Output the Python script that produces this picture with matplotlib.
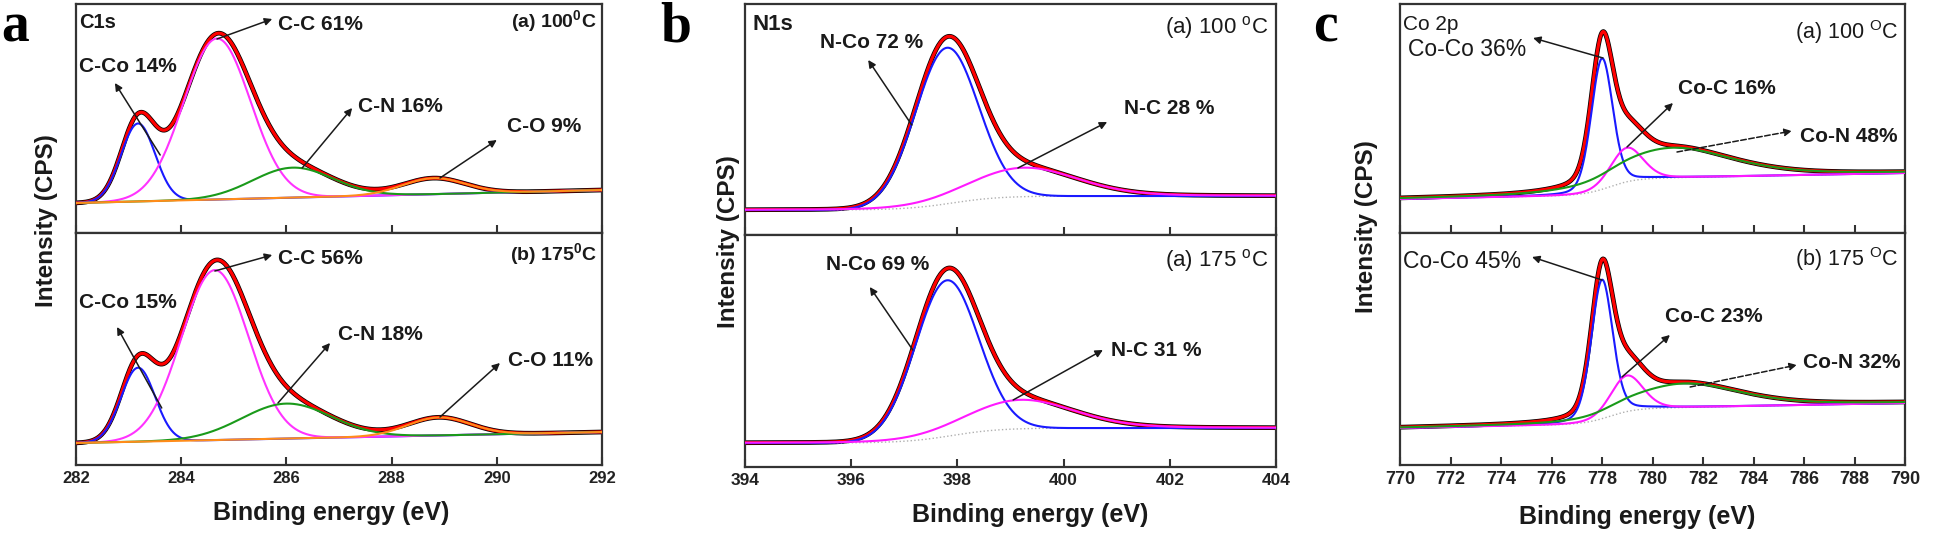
import numpy as np
import matplotlib
matplotlib.use('Agg')
import matplotlib.pyplot as plt

plt.rcParams['font.family'] = ['Liberation Sans', 'DejaVu Sans']
plt.rcParams['mathtext.fontset'] = 'custom'
plt.rcParams['mathtext.default'] = 'regular'

# ---- data (peak centre eV, height, HWHM eV, lorentz share)
# C1s
c1s_range = (282, 292)
c1s_ticks = [282, 284, 286, 288, 290, 292]
c1s_names = ['C-Co', 'C-C', 'C-N', 'C-O']
c1s_100_center = [283.18, 284.68, 286.12, 288.8]
c1s_100_height = [78, 161, 30, 16]
c1s_100_hwhm = [0.38, 0.75, 0.9, 0.7]
c1s_100_eta = [0, 0, 0, 0]
c1s_100_pct = [14, 61, 16, 9]
c1s_100_bg = [30, 1.3, 0, 287, 1]   # level, slope, step, step centre, step width
c1s_175_center = [283.18, 284.64, 286.0, 288.9]
c1s_175_height = [74, 170, 35, 18]
c1s_175_hwhm = [0.38, 0.75, 1.0, 0.7]
c1s_175_eta = [0, 0, 0, 0]
c1s_175_pct = [15, 56, 18, 11]
c1s_175_bg = [22, 1.1, 0, 287, 1]

# N1s
n1s_range = (394, 404)
n1s_ticks = [394, 396, 398, 400, 402, 404]
n1s_names = ['N-Co', 'N-C']
n1s_100_center = [397.8, 399.24]
n1s_100_height = [156, 29]
n1s_100_hwhm = [0.7, 1.2]
n1s_100_eta = [0, 0.2]
n1s_100_pct = [72, 28]
n1s_100_bg = [25, 0, 14, 397.9, 0.45]
n1s_175_center = [397.8, 399.18]
n1s_175_height = [156, 29]
n1s_175_hwhm = [0.7, 1.2]
n1s_175_eta = [0, 0.2]
n1s_175_pct = [69, 31]
n1s_175_bg = [24, 0, 15, 397.9, 0.45]

# Co 2p
co_range = (770, 790)
co_ticks = [770, 772, 774, 776, 778, 780, 782, 784, 786, 788, 790]
co_names = ['Co-Co', 'Co-C', 'Co-N']
co_100_center = [778.0, 778.98, 780.8]
co_100_height = [131, 34, 30]
co_100_hwhm = [0.5, 0.75, 2.8]
co_100_eta = [0.2, 0.2, 0.5]
co_100_pct = [36, 16, 48]
co_100_bg = [34, 0.5, 16, 778.3, 0.5]
co_175_center = [778.0, 778.98, 781.3]
co_175_height = [139, 36, 24]
co_175_hwhm = [0.5, 0.75, 2.6]
co_175_eta = [0.25, 0.2, 0.5]
co_175_pct = [45, 23, 32]
co_175_bg = [37, 0.5, 15, 778.3, 0.5]

W, H = 1946, 533
fig = plt.figure(figsize=(W / 100, H / 100), dpi=100)
SPINE = '#333333'


def pv(x, c, h, w, eta):
    d = ((x - c) / w) ** 2
    return h * (eta / (1 + d) + (1 - eta) * np.exp(-np.log(2) * d))


def background(x, p):
    lo, slope, step, sc, sw = p
    return lo + slope * (x - x[0]) + step / (1 + np.exp(-(x - sc) / sw))


def px_axes(l, r, t, b):
    return fig.add_axes([l / W, 1 - b / H, (r - l) / W, (b - t) / H])


def spectrum(ax, xr, centers, heights, hwhms, etas, bgp, colors, graybg):
    x = np.linspace(xr[0], xr[1], 800)
    bg = background(x, bgp)
    comps = [pv(x, c, h, w, e) for c, h, w, e in zip(centers, heights, hwhms, etas)]
    env = bg + np.sum(comps, axis=0)
    ax.plot(x, env, color='black', lw=3.4, zorder=2)
    ax.plot(x, env, color='#ff0000', lw=2.3, zorder=3)
    if graybg:
        ax.plot(x, bg, color='#b0b0b0', lw=1.0, ls=':', zorder=2.5)
    for comp, col in zip(comps, colors):
        ax.plot(x, bg + comp, color=col, lw=1.5, zorder=4)


def style(ax, xr, ticks, ylim, bottom, tsize):
    ax.set_xlim(*xr)
    ax.set_ylim(0, ylim)
    ax.set_yticks([])
    ax.set_xticks(ticks)
    for s in ax.spines.values():
        s.set_color(SPINE)
        s.set_linewidth(1.6)
    ax.tick_params(axis='x', direction='in', length=6, width=1.5, color=SPINE,
                   labelsize=tsize, pad=4, labelbottom=bottom)
    for lab in ax.get_xticklabels():
        lab.set_fontweight('bold')
        lab.set_color('#222222')


def arrow(ax, head, tail, ls='-'):
    ax.annotate('', xy=head, xytext=tail,
                arrowprops=dict(arrowstyle='-|>', color='#1a1a1a', lw=1.1, ls=ls,
                                mutation_scale=11, shrinkA=0, shrinkB=0), zorder=6)


def label(ax, s, x, y, size, weight='bold', ha='center'):
    ax.text(x, y, s, fontsize=size, fontweight=weight, ha=ha, va='center',
            color='#1a1a1a', zorder=7)


# ---------------- panel a : C1s
cols_a = ['#1a1aff', '#ff33ff', '#1a9a1a', '#ff8c1a']
a1 = px_axes(76, 602, 4, 233)
a2 = px_axes(76, 602, 233, 465)
spectrum(a1, c1s_range, c1s_100_center, c1s_100_height, c1s_100_hwhm, c1s_100_eta,
         c1s_100_bg, cols_a, False)
spectrum(a2, c1s_range, c1s_175_center, c1s_175_height, c1s_175_hwhm, c1s_175_eta,
         c1s_175_bg, cols_a, False)
style(a1, c1s_range, c1s_ticks, 229, False, 12)
style(a2, c1s_range, c1s_ticks, 232, True, 12)
lab_a1 = ['%s %d%%' % (n, p) for n, p in zip(c1s_names, c1s_100_pct)]
lab_a2 = ['%s %d%%' % (n, p) for n, p in zip(c1s_names, c1s_175_pct)]
label(a1, 'C1s', 282.06, 210, 14.5, ha='left')
label(a1, '(a) 100$^0$C', 291.9, 212, 14, ha='right')
label(a2, '(b) 175$^0$C', 291.9, 211, 14, ha='right')
for s, tx, ty in zip(lab_a1, [282.99, 286.64, 288.16, 290.9], [167, 208, 127, 107]):
    label(a1, s, tx, ty, 15)
for s, tx, ty in zip(lab_a2, [282.99, 286.64, 287.78, 291.03], [162, 206, 130, 105]):
    label(a2, s, tx, ty, 15)
arrow(a1, (282.74, 150), (283.6, 78))
arrow(a1, (285.73, 214), (284.68, 194))
arrow(a1, (287.25, 125), (286.3, 65))
arrow(a1, (290.0, 93), (288.92, 55))
arrow(a2, (282.78, 138), (283.63, 57))
arrow(a2, (285.73, 210), (284.64, 194))
arrow(a2, (286.83, 122), (285.84, 62))
arrow(a2, (290.06, 102), (288.92, 48))

# ---------------- panel b : N1s
cols_b = ['#1a1aff', '#ff1aff']
b1 = px_axes(745, 1276, 4, 235)
b2 = px_axes(745, 1276, 235, 467)
spectrum(b1, n1s_range, n1s_100_center, n1s_100_height, n1s_100_hwhm, n1s_100_eta,
         n1s_100_bg, cols_b, True)
spectrum(b2, n1s_range, n1s_175_center, n1s_175_height, n1s_175_hwhm, n1s_175_eta,
         n1s_175_bg, cols_b, True)
style(b1, n1s_range, n1s_ticks, 231, False, 12.5)
style(b2, n1s_range, n1s_ticks, 232, True, 12.5)
lab_b1 = ['%s %d %%' % (n, p) for n, p in zip(n1s_names, n1s_100_pct)]
lab_b2 = ['%s %d %%' % (n, p) for n, p in zip(n1s_names, n1s_175_pct)]
label(b1, 'N1s', 394.15, 210, 16, ha='left')
label(b1, '(a) 100 $^o$C', 403.85, 207, 16, weight='normal', ha='right')
label(b2, '(a) 175 $^o$C', 403.85, 207, 16, weight='normal', ha='right')
for s, tx, ty in zip(lab_b1, [396.39, 401.98], [192, 126]):
    label(b1, s, tx, ty, 15)
for s, tx, ty in zip(lab_b2, [396.49, 401.74], [202, 117]):
    label(b2, s, tx, ty, 15)
arrow(b1, (396.32, 175), (397.14, 110))
arrow(b1, (400.82, 113), (399.14, 67))
arrow(b2, (396.35, 180), (397.16, 117))
arrow(b2, (400.74, 117), (399.05, 67))

# ---------------- panel c : Co 2p
cols_c = ['#1a1aff', '#ff1aff', '#1a9a1a']
c1 = px_axes(1400, 1905, 4, 233)
c2 = px_axes(1400, 1905, 233, 465)
spectrum(c1, co_range, co_100_center, co_100_height, co_100_hwhm, co_100_eta,
         co_100_bg, cols_c, True)
spectrum(c2, co_range, co_175_center, co_175_height, co_175_hwhm, co_175_eta,
         co_175_bg, cols_c, True)
style(c1, co_range, co_ticks, 229, False, 13)
style(c2, co_range, co_ticks, 232, True, 13)
lab_c1 = ['%s %d%%' % (n, p) for n, p in zip(co_names, co_100_pct)]
lab_c2 = ['%s %d%%' % (n, p) for n, p in zip(co_names, co_175_pct)]
label(c1, 'Co 2p', 770.12, 208, 15, weight='normal', ha='left')
label(c1, '(a) 100 $^O$C', 789.72, 201, 15.5, weight='normal', ha='right')
label(c2, '(b) 175 $^O$C', 789.72, 206, 15.5, weight='normal', ha='right')
label(c1, lab_c1[0], 770.32, 184, 16.5, weight='normal', ha='left')
label(c1, lab_c1[1], 782.95, 144, 15)
label(c1, lab_c1[2], 787.78, 97, 15)
label(c2, lab_c2[0], 770.12, 204, 16.5, weight='normal', ha='left')
label(c2, lab_c2[1], 782.44, 148, 15)
label(c2, lab_c2[2], 787.9, 103, 15)
arrow(c1, (775.27, 195), (778.04, 175))
arrow(c1, (780.81, 130), (778.99, 86))
arrow(c1, (785.52, 102), (780.97, 81), ls='--')
arrow(c2, (775.23, 208), (778.0, 185))
arrow(c2, (780.69, 130), (778.79, 88))
arrow(c2, (785.72, 100), (781.49, 78), ls='--')

# ---------------- shared texts
for xc, yc in [(47, 221), (728, 242), (1366, 227)]:
    fig.text(xc / W, 1 - yc / H, 'Intensity (CPS)', rotation=90, fontsize=17.5,
             fontweight='bold', ha='center', va='center', color='#1a1a1a')
for xc, yc in [(331, 513), (1030, 515), (1637, 517)]:
    fig.text(xc / W, 1 - yc / H, 'Binding energy (eV)', fontsize=18,
             fontweight='bold', ha='center', va='center', color='#1a1a1a')
for s, xl, yb in [('a', 1, 41), ('b', 660, 42), ('c', 1313, 42)]:
    fig.text(xl / W, 1 - yb / H, s, fontsize=40, fontweight='bold',
             family='Liberation Serif', ha='left', va='baseline')

fig.savefig('out.png', dpi=100)
